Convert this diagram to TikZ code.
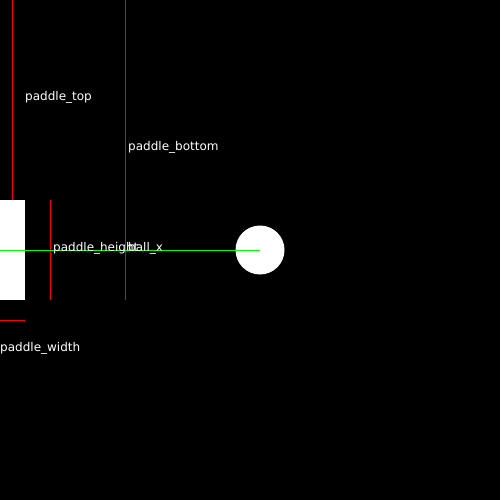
\documentclass[tikz,border=0pt]{standalone}
\usepackage{fontspec}
\setmainfont{DejaVu Sans}
\begin{document}
\begin{tikzpicture}[x=1bp,y=-1bp,
  redline/.style={draw=red,line width=1bp},
  greenline/.style={draw=green,line width=1bp},
  lbl/.style={text=white,inner sep=0pt,anchor=base west,font=\fontsize{12bp}{14bp}\selectfont}]
\useasboundingbox (0,0) rectangle (500,500);
\fill[black] (0,0) rectangle (500,500);
% paddle
\fill[white] (0,200) rectangle (25,300);
% ball
\fill[white] (260,250) circle[radius=24.5];
% guide lines
\draw[redline] (12.5,0) -- (12.5,200);
\draw[redline] (125.5,0) -- (125.5,300);
\draw[redline] (50.5,200) -- (50.5,300);
\draw[redline] (0,320.5) -- (25,320.5);
\draw[greenline] (0,250.5) -- (260,250.5);
% labels
\node[lbl] (ptop) at (25,101) {paddle\_top};
\node[lbl] (pbottom) at (128,151) {paddle\_bottom};
\node[lbl] (pheight) at (53,251) {paddle\_height};
\node[lbl] (ballx) at (128,251) {ball\_x};
\node[lbl] (pwidth) at (0,351) {paddle\_width};
\end{tikzpicture}
\end{document}
